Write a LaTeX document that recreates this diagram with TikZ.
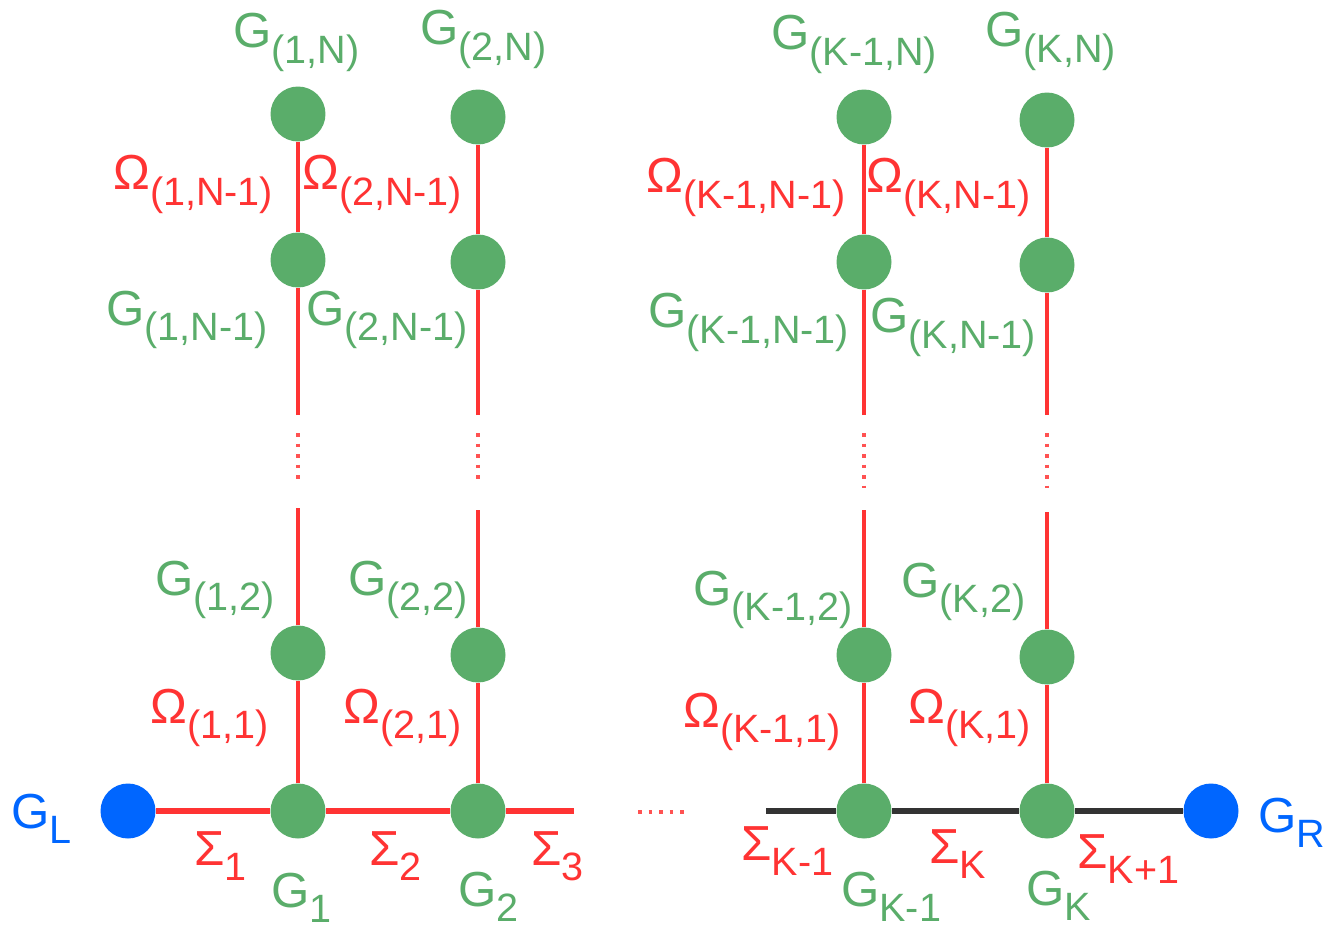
\documentclass[tikz,border=0pt]{standalone}
\usepackage{fontspec}
\setmainfont{Liberation Sans}
\usetikzlibrary{positioning}
\definecolor{grn}{HTML}{5AAD6A}
\definecolor{lin}{HTML}{FF3333}
\definecolor{blu}{HTML}{0066FF}
\definecolor{blk}{HTML}{333333}
\newcommand{\idx}[2]{#1\raisebox{-9pt}{\fontsize{22.5}{23}\selectfont #2}}

\begin{document}
\begin{tikzpicture}[x=0.02cm, y=-0.02cm,
  site/.style={circle, fill=grn, minimum size=1.1cm, inner sep=0pt},
  lead/.style={circle, fill=blu, minimum size=1.1cm, inner sep=0pt},
  bond/.style={draw=lin, line width=2.8pt},
  chain/.style={draw=lin, line width=3.4pt},
  wire/.style={draw=blk, line width=3pt},
  gap/.style={draw=lin!85, line width=2pt, dash pattern=on 2pt off 4pt},
  lab/.style={anchor=base west, inner sep=0pt, font=\fontsize{28}{30}\selectfont},
  glab/.style={lab, text=grn},
  rlab/.style={lab, text=lin},
  blab/.style={lab, text=blu},
]
\useasboundingbox (0,0) rectangle (1331,932);

% leads and bottom chain
\node[lead] (gl) at (128,811) {};
\node[lead] (gr) at (1211,811) {};
\node[site] (b1) at (298,811) {};
\node[site] (b2) at (478,811) {};
\node[site] (bk1) at (864,811) {};
\node[site] (bk) at (1047,811) {};
\coordinate (e3) at (574,811);
\coordinate (w0) at (766,811);
\coordinate (h1) at (638,812);
\coordinate (h2) at (690,812);

% columns
\node[site] (g12) at (298,653) {};
\node[site] (g1m) at (298,260) {};
\node[site] (g1n) at (298,114) {};
\node[site] (g22) at (478,655) {};
\node[site] (g2m) at (478,262) {};
\node[site] (g2n) at (478,117) {};
\node[site] (gk12) at (864,655) {};
\node[site] (gk1m) at (864,262) {};
\node[site] (gk1n) at (864,117) {};
\node[site] (gk2) at (1047,657) {};
\node[site] (gkm) at (1047,265) {};
\node[site] (gkn) at (1047,120) {};

\coordinate (s1a) at (298,415); \coordinate (s1b) at (298,508);
\coordinate (s2a) at (478,415); \coordinate (s2b) at (478,510);
\coordinate (s3a) at (864,415); \coordinate (s3b) at (864,510);
\coordinate (s4a) at (1047,415); \coordinate (s4b) at (1047,512);
\coordinate (d1a) at (298,433); \coordinate (d1b) at (298,484);
\coordinate (d2a) at (478,433); \coordinate (d2b) at (478,484);
\coordinate (d3a) at (864,433); \coordinate (d3b) at (864,488);
\coordinate (d4a) at (1047,433); \coordinate (d4b) at (1047,488);

\draw[bond] (b1) -- (g12) -- (s1b);
\draw[bond] (s1a) -- (g1m) -- (g1n);
\draw[bond] (b2) -- (g22) -- (s2b);
\draw[bond] (s2a) -- (g2m) -- (g2n);
\draw[bond] (bk1) -- (gk12) -- (s3b);
\draw[bond] (s3a) -- (gk1m) -- (gk1n);
\draw[bond] (bk) -- (gk2) -- (s4b);
\draw[bond] (s4a) -- (gkm) -- (gkn);
\draw[gap] (d1a) -- (d1b);
\draw[gap] (d2a) -- (d2b);
\draw[gap] (d3a) -- (d3b);
\draw[gap] (d4a) -- (d4b);

\draw[chain] (gl) -- (b1) -- (b2) -- (e3);
\draw[gap] (h1) -- (h2);
\draw[wire] (w0) -- (bk1) -- (bk) -- (gr);

% labels
\node[glab] (t1n) at (233,48) {\idx{G}{(1,N)}};
\node[glab] (t2n) at (420,45) {\idx{G}{(2,N)}};
\node[glab] (tk1n) at (771,50) {\idx{G}{(K-1,N)}};
\node[glab] (tkn) at (985,47) {\idx{G}{(K,N)}};

\node[rlab] (o1m) at (113,190) {\idx{Ω}{(1,N-1)}};
\node[rlab] (o2m) at (302,190) {\idx{Ω}{(2,N-1)}};
\node[rlab] (ok1m) at (646,193) {\idx{Ω}{(K-1,N-1)}};
\node[rlab] (okm) at (866,193) {\idx{Ω}{(K,N-1)}};

\node[glab] (t1m) at (106,325) {\idx{G}{(1,N-1)}};
\node[glab] (t2m) at (306,325) {\idx{G}{(2,N-1)}};
\node[glab] (tk1m) at (648,328) {\idx{G}{(K-1,N-1)}};
\node[glab] (tkm) at (870,333) {\idx{G}{(K,N-1)}};

\node[glab] (t12) at (155,595) {\idx{G}{(1,2)}};
\node[glab] (t22) at (348,595) {\idx{G}{(2,2)}};
\node[glab] (tk12) at (693,605) {\idx{G}{(K-1,2)}};
\node[glab] (tk2) at (901,597) {\idx{G}{(K,2)}};

\node[rlab] (o11) at (150,723) {\idx{Ω}{(1,1)}};
\node[rlab] (o21) at (343,723) {\idx{Ω}{(2,1)}};
\node[rlab] (ok11) at (683,727) {\idx{Ω}{(K-1,1)}};
\node[rlab] (ok1) at (908,723) {\idx{Ω}{(K,1)}};

\node[blab] (tl) at (11,828) {\idx{G}{L}};
\node[blab] (tr) at (1258,832) {\idx{G}{R}};
\node[rlab] (sg1) at (194,865) {\idx{Σ}{1}};
\node[rlab] (sg2) at (369,865) {\idx{Σ}{2}};
\node[rlab] (sg3) at (531,865) {\idx{Σ}{3}};
\node[rlab] (sgk1) at (741,860) {\idx{Σ}{K-1}};
\node[rlab] (sgk) at (929,863) {\idx{Σ}{K}};
\node[rlab] (sgk2) at (1077,868) {\idx{Σ}{K+1}};
\node[glab] (tb1) at (271,907) {\idx{G}{1}};
\node[glab] (tb2) at (458,906) {\idx{G}{2}};
\node[glab] (tbk1) at (841,906) {\idx{G}{K-1}};
\node[glab] (tbk) at (1026,905) {\idx{G}{K}};

\end{tikzpicture}
\end{document}
